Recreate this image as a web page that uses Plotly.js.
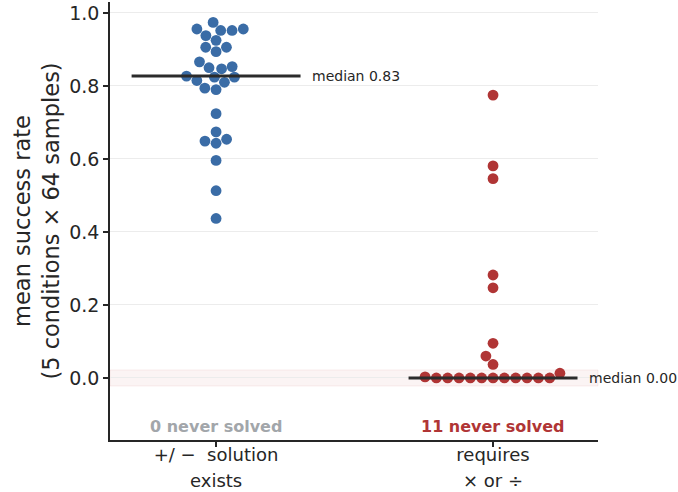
<!DOCTYPE html>
<html>
<head>
<meta charset="utf-8">
<script src="https://cdn.plot.ly/plotly-3.0.1.min.js"></script>
<style>html,body{margin:0;padding:0;background:#fff;}</style>
</head>
<body>
<div id="chart" style="width:678px;height:492px;"></div>
<script>
// ---- data ----
const categoryLine1 = ["+/ \u2212  solution", "requires"];
const categoryLine2 = ["exists", "\u00d7 or \u00f7"];
const plusMinusRates = [0.974,0.956,0.952,0.952,0.956,0.938,0.925,0.906,0.906,0.894,0.866,0.853,0.850,0.847,0.827,0.824,0.824,0.815,0.810,0.794,0.790,0.724,0.674,0.649,0.654,0.643,0.596,0.513,0.437];
const mulDivRates = [0.775,0.581,0.546,0.282,0.247,0.095,0.060,0.037,0.013,0.003,0,0,0,0,0,0,0,0,0,0,0];
const seriesColors = ["#3a6ca6", "#b03535"];
const yTickVals = [0.0, 0.2, 0.4, 0.6, 0.8, 1.0];

// ---- layout geometry ----
const W = 678, H = 492;
const margin = {l:110, r:80, t:2, b:52};
const xRange = [-0.383, 1.379];
const yRange = [-0.170, 1.030];
const pxX = (W - margin.l - margin.r) / (xRange[1] - xRange[0]);
const pxY = (H - margin.t - margin.b) / (yRange[1] - yRange[0]);
const DIAM = 10.8;

// seaborn-like beeswarm in pixel space, returns x offsets in data units
function swarm(vals) {
  const order = vals.map((v,i)=>i).sort((a,b)=>vals[a]-vals[b]);
  const placed = [];
  const offs = new Array(vals.length);
  for (const i of order) {
    const y = vals[i]*pxY;
    const neigh = placed.filter(p => Math.abs(p.y - y) < DIAM);
    const cands = [0];
    for (const p of neigh) {
      const dy = y - p.y;
      const dx = Math.sqrt(DIAM*DIAM - dy*dy) * 1.05;
      cands.push(p.x - dx, p.x + dx);
    }
    const idx = cands.map((c,k)=>k).sort((a,b)=>{
      const d = Math.abs(cands[a]) - Math.abs(cands[b]);
      return d !== 0 ? d : a - b;
    });
    let chosen = 0;
    for (const k of idx) {
      const c = cands[k];
      const ok = neigh.every(p => Math.hypot(p.x - c, p.y - y) >= DIAM - 1e-6);
      if (ok) { chosen = c; break; }
    }
    placed.push({x: chosen, y: y});
    offs[i] = chosen / pxX;
  }
  return offs;
}

function median(a) {
  const s = [...a].sort((p,q)=>p-q);
  const n = s.length;
  return n % 2 ? s[(n-1)/2] : (s[n/2-1] + s[n/2]) / 2;
}

const groups = [plusMinusRates, mulDivRates];
const traces = [];
const annotations = [];
const shapes = [];

shapes.push({type:'rect', xref:'paper', yref:'y', x0:0, x1:1, y0:-0.022, y1:0.022,
  fillcolor:'rgba(178,34,34,0.05)', line:{width:1, color:'rgba(178,34,34,0.07)'}, layer:'below'});

groups.forEach((vals, g) => {
  const offs = swarm(vals);
  traces.push({
    type:'scatter', mode:'markers',
    x: vals.map((v,i)=> g + offs[i]), y: vals,
    marker:{size:DIAM, color:seriesColors[g], line:{width:0}},
    hoverinfo:'y', showlegend:false
  });
  const med = median(vals);
  traces.push({
    type:'scatter', mode:'lines', x:[g-0.305, g+0.305], y:[med, med],
    line:{color:'#2b2b2b', width:3}, hoverinfo:'skip', showlegend:false
  });
  annotations.push({x:g+0.34, y:med, xref:'x', yref:'y', text:'median ' + med.toFixed(2),
    showarrow:false, xanchor:'left', yanchor:'middle', font:{size:14, color:'#262626'}});
  const never = vals.filter(v => v === 0).length;
  annotations.push({x:g, y:-0.134, xref:'x', yref:'y', text:'<b>' + never + ' never solved</b>',
    showarrow:false, xanchor:'center', yanchor:'middle',
    font:{size:16, color: never === 0 ? '#a2a6aa' : '#b03535'}});
  // second line of the category label
  annotations.push({x:g, y:0, xref:'x', yref:'paper', yshift:-40, text:categoryLine2[g],
    showarrow:false, xanchor:'center', yanchor:'middle', font:{size:18, color:'#262626'}});
});

const layout = {
  width:W, height:H, margin:margin,
  paper_bgcolor:'#fff', plot_bgcolor:'#fff',
  font:{family:'DejaVu Sans', color:'#262626'},
  showlegend:false,
  xaxis:{range:xRange, tickvals:[0,1], ticktext:categoryLine1, showgrid:false, zeroline:false,
    showline:true, linecolor:'#262626', linewidth:1.8, ticks:'outside', ticklen:5, tickwidth:1.2,
    ticklabelstandoff:-7,
    tickcolor:'#262626', tickfont:{size:18, color:'#262626'}},
  yaxis:{range:yRange, tickvals:yTickVals, ticktext:yTickVals.map(v=>v.toFixed(1)),
    showgrid:true, gridcolor:'#ececec', gridwidth:1, zeroline:false,
    showline:true, linecolor:'#262626', linewidth:1.8, ticks:'outside', ticklen:5, tickwidth:1.2,
    tickcolor:'#262626', tickfont:{size:19, color:'#262626'},
    title:{text:'mean success rate<br>(5 conditions \u00d7 64 samples)', font:{size:22.5, color:'#262626'}, standoff:3}},
  shapes:shapes, annotations:annotations
};

Plotly.newPlot('chart', traces, layout, {displayModeBar:false, staticPlot:true});
</script>
</body>
</html>
